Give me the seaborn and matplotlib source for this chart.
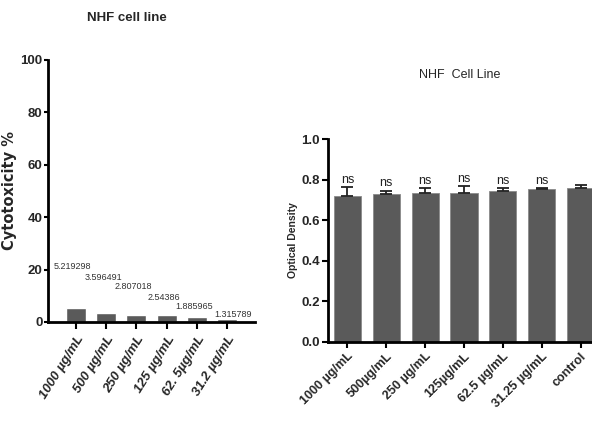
import numpy as np
import pandas as pd
import seaborn as sns
import matplotlib.pyplot as plt

# left panel: cytotoxicity
cyto_labels = ['1000 µg/mL', '500 µg/mL', '250 µg/mL', '125 µg/mL', '62. 5µg/mL', '31.2 µg/mL']
cyto_values = [5.219298, 3.596491, 2.807018, 2.54386, 1.885965, 1.315789]
cyto_text = ['5.219298', '3.596491', '2.807018', '2.54386', '1.885965', '1.315789']
cyto_text_y = [21, 16.8, 13.4, 9.2, 6.1, 2.7]

# right panel: optical density
od_labels = ['1000 µg/mL', '500µg/mL', '250 µg/mL', '125µg/mL', '62.5 µg/mL', '31.25 µg/mL', 'control']
od_mean = [0.72, 0.729, 0.735, 0.735, 0.744, 0.752, 0.76]
od_sd = [0.045, 0.015, 0.024, 0.033, 0.016, 0.007, 0.015]
od_sig = ['ns', 'ns', 'ns', 'ns', 'ns', 'ns', '']

sns.set_style('ticks')
plt.rcParams['font.family'] = ['Liberation Sans', 'DejaVu Sans']
bar_color = '#5a5a5a'

fig = plt.figure(figsize=(5.92, 4.30), dpi=100)
W, H = 592, 430

# ---- left ----
ax1 = fig.add_axes([48 / W, (H - 322) / H, (255 - 48) / W, (322 - 60) / H])
df1 = pd.DataFrame({'conc': cyto_labels, 'val': cyto_values})
sns.barplot(data=df1, x='conc', y='val', color=bar_color, saturation=1,
            width=0.66, ax=ax1)
ax1.set_xlim(-0.92, 5.91)
ax1.set_ylim(0, 100)
ax1.set_yticks([0, 20, 40, 60, 80, 100])
for i, (t, ty) in enumerate(zip(cyto_text, cyto_text_y)):
    ax1.text(i - 0.1 + (0.3 if i == 5 else 0), ty, t, ha='center', va='center',
             fontsize=6.5, color='#333333')
ax1.set_xlabel('')
ax1.set_ylabel('Cytotoxicity %', fontsize=10.5, fontweight='bold',
               family='DejaVu Sans')
ax1.yaxis.set_label_coords(-31 / 207, 0.5)
fig.text(127 / W, 1 - 18 / H, 'NHF cell line', ha='center', va='center',
         fontsize=9.5, fontweight='bold')
for lab in ax1.get_yticklabels():
    lab.set_fontweight('bold')
    lab.set_fontsize(9.5)
ax1.set_xticks(range(len(cyto_labels)))
ax1.set_xticklabels(cyto_labels, rotation=58, ha='right', rotation_mode='anchor',
                    fontsize=9.5, fontweight='bold', fontstyle='italic')
sns.despine(ax=ax1)
for s in ['left', 'bottom']:
    ax1.spines[s].set_linewidth(2)
    ax1.spines[s].set_color('black')
ax1.tick_params(axis='y', width=1.5, length=3, color='black', pad=1)
ax1.tick_params(axis='x', width=1.5, length=5, color='black', pad=3)

# ---- right ----
ax2 = fig.add_axes([328 / W, (H - 342) / H, (600 - 328) / W, (342 - 139) / H])
df2 = pd.DataFrame({'conc': od_labels, 'od': od_mean})
sns.barplot(data=df2, x='conc', y='od', color=bar_color, saturation=1,
            width=0.7, ax=ax2, edgecolor='#8a8a8a', linewidth=0.6)
x = np.arange(len(od_labels))
ax2.errorbar(x, od_mean, yerr=[np.zeros(len(od_sd)), od_sd], fmt='none',
             ecolor='#222222', elinewidth=1.3, capsize=4, capthick=1.3, zorder=3)
for i, (m, s, lab) in enumerate(zip(od_mean, od_sd, od_sig)):
    ax2.text(i, max(m + s, 0.75) + 0.035, lab, ha='center', va='center',
             fontsize=9, color='#222222')
ax2.set_xlim(-0.5, 6.5)
ax2.set_ylim(0, 1.0)
ax2.set_yticks([0.0, 0.2, 0.4, 0.6, 0.8, 1.0])
ax2.set_yticklabels(['0.0', '0.2', '0.4', '0.6', '0.8', '1.0'],
                    fontsize=9.5, fontweight='bold')
ax2.set_xticks(x)
ax2.set_xticklabels(od_labels, rotation=45, ha='right', rotation_mode='anchor',
                    fontsize=9, fontweight='bold')
ax2.set_xlabel('')
ax2.set_ylabel('Optical Density', fontsize=7.5, fontweight='bold')
ax2.yaxis.set_label_coords(-30 / 272, 0.5)
fig.text(460 / W, 1 - 75 / H, 'NHF  Cell Line', ha='center', va='center',
         fontsize=9)
sns.despine(ax=ax2)
for s in ['left', 'bottom']:
    ax2.spines[s].set_linewidth(2)
    ax2.spines[s].set_color('black')
ax2.tick_params(axis='both', width=1.5, length=4, color='black', pad=2)

fig.savefig('out.png', dpi=100)
